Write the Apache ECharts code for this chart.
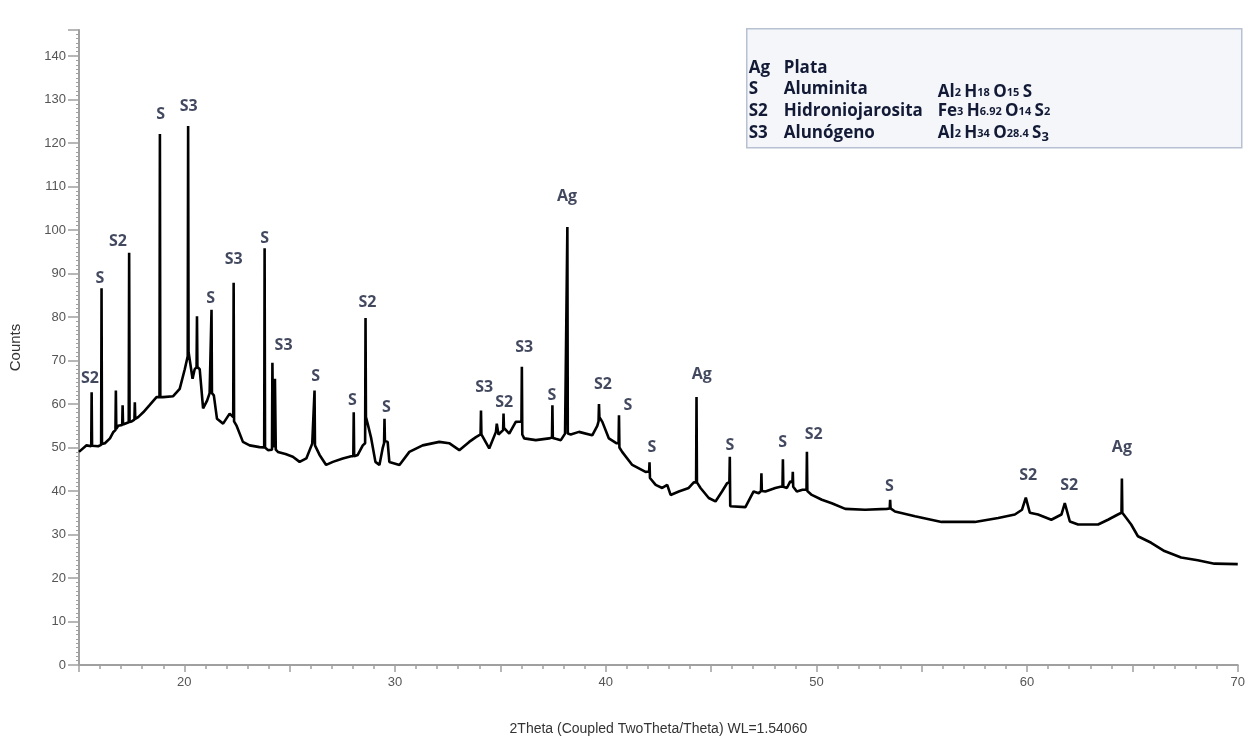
<!DOCTYPE html>
<html>
<head>
<meta charset="utf-8">
<script src="https://cdn.jsdelivr.net/npm/echarts@6/dist/echarts.min.js"></script>
<style>
  html, body { margin: 0; padding: 0; background: #fff; }
  #xrd { width: 1248px; height: 741px; }
</style>
</head>
<body>
<div id="xrd"></div>
<script>
// difractograma, leido a ojo de la figura
const twoTheta = [
  15.00, 15.05, 15.36, 15.58, 15.60, 15.62, 15.68, 15.91, 16.05, 16.07, 16.09, 16.23, 16.47, 16.62,
  16.73, 16.75, 16.77, 16.86, 17.05, 17.07, 17.09, 17.18, 17.36, 17.38, 17.40, 17.50, 17.63, 17.65,
  17.67, 17.81, 18.05, 18.36, 18.68, 18.82, 18.84, 18.86, 18.99, 19.47, 19.78, 20.02, 20.16, 20.18,
  20.20, 20.29, 20.39, 20.49, 20.58, 20.60, 20.62, 20.73, 20.89, 21.08, 21.20, 21.27, 21.29, 21.31,
  21.40, 21.55, 21.84, 22.15, 22.32, 22.34, 22.36, 22.47, 22.78, 23.10, 23.57, 23.79, 23.81, 23.83,
  23.97, 24.16, 24.18, 24.22, 24.30, 24.34, 24.44, 24.80, 25.15, 25.47, 25.79, 26.07, 26.16, 26.18,
  26.20, 26.42, 26.73, 27.05, 27.52, 27.92, 28.02, 28.04, 28.06, 28.23, 28.47, 28.58, 28.60, 28.62,
  28.70, 28.87, 29.07, 29.26, 29.42, 29.48, 29.50, 29.52, 29.65, 29.73, 30.21, 30.68, 31.31, 32.10,
  32.57, 33.05, 33.52, 33.84, 34.06, 34.08, 34.10, 34.19, 34.47, 34.79, 34.83, 34.91, 35.13, 35.15,
  35.17, 35.26, 35.42, 35.73, 36.00, 36.02, 36.04, 36.13, 36.68, 37.31, 37.45, 37.47, 37.49, 37.63,
  37.87, 38.07, 38.16, 38.18, 38.20, 38.34, 38.73, 39.36, 39.60, 39.66, 39.68, 39.70, 39.84, 40.15,
  40.50, 40.61, 40.63, 40.65, 40.78, 41.26, 41.89, 42.06, 42.08, 42.10, 42.37, 42.68, 42.92, 43.08,
  43.47, 43.94, 44.18, 44.29, 44.31, 44.33, 44.50, 44.89, 45.21, 45.52, 45.76, 45.87, 45.89, 45.91,
  46.00, 46.63, 47.02, 47.26, 47.37, 47.39, 47.41, 47.58, 48.05, 48.29, 48.39, 48.41, 48.43, 48.60,
  48.76, 48.86, 48.88, 48.90, 49.07, 49.34, 49.53, 49.55, 49.57, 49.78, 50.26, 50.73, 51.37, 52.31,
  53.34, 53.48, 53.50, 53.52, 53.73, 54.68, 55.94, 57.52, 58.63, 59.42, 59.76, 59.94, 60.13, 60.52,
  61.15, 61.63, 61.79, 62.03, 62.42, 63.37, 63.84, 64.31, 64.48, 64.50, 64.52, 64.71, 64.94, 65.26,
  65.89, 66.52, 67.31, 68.10, 68.89, 70.00
];
const counts = [
  49.0, 49.4, 50.5, 50.3, 62.7, 50.4, 50.5, 50.3, 50.6, 86.6, 50.8, 51.0, 52.1, 53.5,
  54.0, 63.1, 54.3, 55.0, 55.2, 59.7, 55.3, 55.5, 55.8, 94.8, 55.9, 56.0, 56.4, 60.4,
  56.6, 57.0, 58.1, 59.8, 61.6, 61.6, 122.1, 61.6, 61.6, 61.8, 63.5, 68.0, 71.0, 123.9,
  72.0, 72.0, 65.8, 68.0, 68.5, 80.2, 68.5, 68.0, 59.0, 60.8, 62.5, 62.5, 81.7, 62.5,
  62.0, 56.6, 55.5, 57.8, 57.0, 87.9, 56.0, 55.1, 51.3, 50.5, 50.1, 50.0, 95.8, 50.0,
  49.4, 49.5, 69.5, 50.0, 65.8, 49.5, 49.0, 48.5, 47.9, 46.7, 47.5, 50.9, 51.0, 63.1,
  50.5, 48.3, 46.0, 46.7, 47.5, 48.0, 48.0, 58.1, 48.0, 48.3, 50.5, 51.0, 79.8, 57.0,
  55.5, 52.1, 46.7, 46.0, 50.0, 51.0, 56.6, 51.5, 51.3, 46.7, 46.0, 49.0, 50.5, 51.3,
  51.0, 49.4, 51.3, 52.4, 53.0, 58.5, 53.0, 52.8, 49.8, 53.6, 55.5, 53.0, 54.0, 57.8,
  54.5, 54.5, 53.2, 55.9, 56.0, 68.6, 53.0, 52.1, 51.7, 52.1, 52.3, 59.7, 52.2, 52.0,
  51.7, 53.2, 53.2, 100.7, 53.2, 53.0, 53.6, 52.8, 55.0, 56.0, 60.0, 57.0, 55.9, 52.1,
  51.0, 51.0, 57.4, 50.0, 49.0, 46.0, 44.4, 44.5, 46.6, 43.0, 41.4, 40.7, 41.4, 39.1,
  39.9, 40.7, 42.0, 42.0, 61.6, 42.0, 40.7, 38.4, 37.6, 39.9, 41.8, 42.0, 47.9, 36.5,
  36.1, 36.3, 39.9, 39.5, 40.0, 44.1, 40.0, 39.9, 40.7, 41.0, 41.0, 47.3, 41.0, 40.7,
  42.2, 42.0, 44.4, 41.0, 39.9, 40.3, 40.3, 49.0, 40.0, 39.1, 38.0, 37.2, 35.9, 35.7,
  35.9, 36.0, 38.0, 36.0, 35.3, 34.2, 32.9, 32.9, 33.8, 34.6, 35.7, 38.5, 35.0, 34.6,
  33.4, 34.6, 37.2, 33.0, 32.3, 32.3, 33.4, 34.6, 35.0, 42.9, 35.0, 33.8, 32.3, 29.6,
  28.1, 26.2, 24.7, 24.1, 23.3, 23.2
];

// etiquetas de picos (centro del texto, en unidades del grafico)
const labelTheta  = [15.52, 15.99, 16.85, 18.88, 20.21, 21.25, 22.34, 23.81, 24.71, 26.23, 27.98, 28.69, 29.59,
                     34.23, 35.18, 36.13, 37.45, 38.16, 39.87, 41.05, 42.19, 44.56, 45.89, 48.40, 49.87,
                     53.47, 60.05, 62.00, 64.50];
const labelCounts = [66.0, 88.8, 97.3, 126.5, 128.5, 84.3, 93.2, 98.0, 73.4, 66.3, 60.8, 83.4, 59.2,
                     63.8, 60.4, 72.9, 61.9, 107.8, 64.4, 59.6, 50.0, 66.7, 50.5, 51.2, 52.9,
                     41.0, 43.5, 41.4, 50.1];
const labelNames  = ['S2', 'S', 'S2', 'S', 'S3', 'S', 'S3', 'S', 'S3', 'S', 'S', 'S2', 'S',
                     'S3', 'S2', 'S3', 'S', 'Ag', 'S2', 'S', 'S', 'Ag', 'S', 'S', 'S2',
                     'S', 'S2', 'S2', 'Ag'];

// recuadro de fases
const phaseCodes = ['Ag', 'S', 'S2', 'S3'];
const phaseNames = ['Plata', 'Aluminita', 'Hidroniojarosita', 'Alunógeno'];
const phaseFormulas = [
  '',
  '{n|Al}{s|2} {n|H}{s|18} {n|O}{s|15} {n|S}',
  '{n|Fe}{s|3} {n|H}{s|6.92} {n|O}{s|14} {n|S}{s|2}',
  '{n|Al}{s|2} {n|H}{s|34} {n|O}{s|28.4} {n|S}{b|3}'
];

const yTickLabels = [0, 10, 20, 30, 40, 50, 60, 70, 80, 90, 100, 110, 120, 130, 140];

const labelFont = '"Open Sans"';
const inkColor = '#131a36';

let chart = echarts.init(document.getElementById('xrd'));

let legendChildren = [{
  type: 'rect',
  shape: { x: 0, y: 0, width: 495, height: 119 },
  style: { fill: '#f4f6f9', stroke: '#b7c1d2', lineWidth: 1.5 }
}];
const rowY = [39, 60, 82, 104];
phaseCodes.forEach(function (code, i) {
  legendChildren.push({
    type: 'text', x: 2, y: rowY[i],
    style: { text: code, font: 'bold 17px ' + labelFont, fill: inkColor, verticalAlign: 'middle' }
  });
  legendChildren.push({
    type: 'text', x: 37, y: rowY[i],
    style: { text: phaseNames[i], font: 'bold 17px ' + labelFont, fill: inkColor, verticalAlign: 'middle' }
  });
  if (phaseFormulas[i]) {
    legendChildren.push({
      type: 'text', x: 191, y: rowY[i] + (i === 1 ? 3 : 0),
      style: {
        text: phaseFormulas[i], fill: inkColor, verticalAlign: 'middle',
        rich: {
          n: { fontFamily: 'Open Sans', fontWeight: 'bold', fontSize: 17, fill: inkColor, lineHeight: 20 },
          s: { fontFamily: 'Open Sans', fontWeight: 'bold', fontSize: 11, fill: inkColor, verticalAlign: 'bottom', padding: [0, 0, 3, 0] },
          b: { fontFamily: 'Open Sans', fontWeight: 'bold', fontSize: 13, fill: inkColor, verticalAlign: 'bottom', padding: [0, 0, -1, 0] }
        }
      }
    });
  }
});

let option = {
  animation: false,
  backgroundColor: '#fff',
  grid: { left: 79, right: 8, top: 30, bottom: 69 },
  xAxis: {
    type: 'value',
    min: 15, max: 70, interval: 5,
    name: '2Theta (Coupled TwoTheta/Theta) WL=1.54060',
    nameLocation: 'middle', nameGap: 57,
    nameTextStyle: { fontFamily: 'Liberation Sans', fontSize: 14, color: '#333' },
    axisLine: { lineStyle: { color: '#a0a0a0', width: 2 } },
    axisTick: { length: 7, lineStyle: { color: '#a0a0a0', width: 1.5 } },
    minorTick: { show: true, splitNumber: 5, length: 4, lineStyle: { color: '#a0a0a0', width: 1.5 } },
    axisLabel: {
      fontFamily: 'Liberation Sans', fontSize: 13, color: '#555', margin: 11,
      formatter: function (v) { return v % 10 === 0 ? String(v) : ''; }
    },
    splitLine: { show: false }
  },
  yAxis: {
    type: 'value',
    min: 0, max: 146, interval: 10,
    name: 'Counts',
    nameLocation: 'middle', nameGap: 56, nameRotate: 90,
    nameTextStyle: { fontFamily: 'Liberation Sans', fontSize: 15, color: '#333' },
    axisLine: { show: true, lineStyle: { color: '#a0a0a0', width: 2 } },
    axisTick: { show: true, length: 11, lineStyle: { color: '#a0a0a0', width: 1.5 } },
    minorTick: { show: true, splitNumber: 10, length: 3, lineStyle: { color: '#a0a0a0', width: 1 } },
    axisLabel: {
      fontFamily: 'Liberation Sans', fontSize: 13, color: '#555', margin: 13,
      formatter: function (v) { return yTickLabels.indexOf(v) >= 0 ? String(v) : ''; }
    },
    splitLine: { show: false }
  },
  graphic: [{
    type: 'group', left: 746, top: 28,
    children: legendChildren
  }],
  series: [
    {
      type: 'line',
      data: twoTheta.map(function (t, i) { return [t, counts[i]]; }),
      showSymbol: false,
      lineStyle: { color: '#000', width: 2.6 },
      z: 3
    },
    {
      type: 'scatter',
      symbolSize: 0,
      data: labelTheta.map(function (t, i) { return { value: [t, labelCounts[i]], name: labelNames[i] }; }),
      label: {
        show: true, position: 'inside',
        formatter: '{b}',
        fontFamily: 'Open Sans', fontWeight: 'bold', fontSize: 16, color: inkColor
      },
      silent: true,
      z: 4
    }
  ]
};

chart.setOption(option);
</script>
</body>
</html>
